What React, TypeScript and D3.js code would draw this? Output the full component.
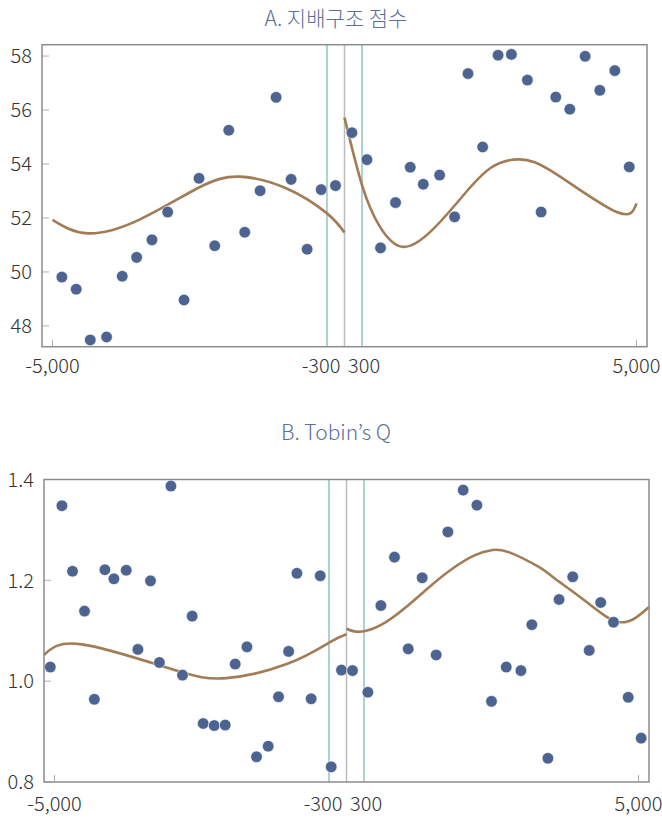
import { useEffect, useRef } from 'react';
import * as d3 from 'd3';

// Panel A: 지배구조 점수
const aPointX = [-4840, -4594, -4354, -4074, -3806, -3559, -3297, -3028, -2748, -2491, -2222, -1982, -1708, -1445, -1171, -914, -640, -399, -154,
  127, 384, 617, 874, 1126, 1349, 1629, 1886, 2115, 2366, 2630, 2858, 3132, 3367, 3618, 3858, 4121, 4372, 4629, 4876];
const aPointY = [49.81, 49.36, 47.48, 47.59, 49.84, 50.54, 51.19, 52.22, 48.96, 53.47, 50.97, 55.25, 51.47, 53.01, 56.47, 53.43, 50.84, 53.05, 53.2,
  55.16, 54.16, 50.89, 52.57, 53.88, 53.25, 53.59, 52.04, 57.35, 54.63, 58.03, 58.06, 57.11, 52.22, 56.48, 56.03, 57.99, 56.73, 57.46, 53.89];
const aLeftFitX = [-5000, -4400, -3500, -2500, -1800, -1000, -300, 0];
const aLeftFitY = [51.93, 51.43, 51.95, 53.12, 53.53, 53.1, 52.17, 51.46];
const aRightFitX = [0, 300, 600, 1000, 1500, 2000, 2500, 3000, 3600, 4650, 5000];
const aRightFitY = [55.72, 53.22, 51.7, 50.93, 51.55, 52.75, 53.85, 54.17, 53.66, 52.23, 52.54];
const aYTicks = [48, 50, 52, 54, 56, 58];

// Panel B: Tobin's Q
const bPointX = [-5072, -4873, -4692, -4486, -4318, -4137, -3983, -3772, -3572, -3356, -3204, -3007, -2808, -2643, -2454, -2265, -2077, -1906,
  -1705, -1541, -1341, -1164, -991, -849, -605, -450, -262, -86,
  103, 366, 589, 822, 1057, 1296, 1536, 1736, 1998, 2233, 2483, 2735, 2987, 3174, 3449, 3640, 3874, 4156, 4353, 4572, 4824, 5046];
const bPointY = [1.028, 1.348, 1.218, 1.139, 0.964, 1.221, 1.203, 1.22, 1.063, 1.199, 1.037, 1.387, 1.012, 1.129, 0.916, 0.912, 0.913, 1.034,
  1.068, 0.85, 0.871, 0.969, 1.059, 1.214, 0.965, 1.209, 0.83, 1.022,
  1.021, 0.978, 1.15, 1.246, 1.064, 1.205, 1.052, 1.296, 1.379, 1.349, 0.96, 1.028, 1.021, 1.112, 0.847, 1.162, 1.207, 1.061, 1.156, 1.117, 0.968, 0.887];
const bLeftFitX = [-5180, -4530, -3000, -2060, -1000, -290, 0];
const bLeftFitY = [1.052, 1.073, 1.024, 1.006, 1.035, 1.077, 1.093];
const bRightFitX = [0, 235, 600, 1000, 1400, 1800, 2200, 2500, 2800, 3300, 3550, 4100, 4690, 5180];
const bRightFitY = [1.104, 1.098, 1.112, 1.145, 1.185, 1.222, 1.25, 1.26, 1.255, 1.226, 1.205, 1.158, 1.117, 1.147];
const bYTicks = [0.8, 1.0, 1.2, 1.4];

const xTicks = [-5000, -300, 300, 5000];
const xDomain = [-5180, 5180];

const FONT = "'Noto Sans CJK KR', 'Noto Sans', sans-serif";
const DOT = '#4e6490';
const FIT = '#a27c56';
const TEAL = '#72b8ad';

const fmtLocale = d3.formatLocale({ decimal: '.', thousands: ',', grouping: [3], currency: ['', ''], minus: '-' });
const fmtX = fmtLocale.format(',');

function drawPanel(svg, opts) {
  const { title, titleY, left, right, top, bottom, xLabelDy, yDomain, yTicks, yFmt, px, py, lx, ly, rx, ry } = opts;
  const x = d3.scaleLinear().domain(xDomain).range([left, right]);
  const y = d3.scaleLinear().domain(yDomain).range([bottom, top]);
  const g = svg.append('g');

  g.append('text')
    .attr('x', 336)
    .attr('y', titleY)
    .attr('text-anchor', 'middle')
    .style('font-family', FONT)
    .style('font-size', '21px')
    .style('font-weight', 300)
    .style('fill', '#5b6f99')
    .text(title);

  // reference lines
  [-300, 300].forEach(v => {
    g.append('line')
      .attr('x1', x(v)).attr('x2', x(v))
      .attr('y1', top).attr('y2', bottom)
      .style('stroke', TEAL).style('stroke-width', 1.2);
  });
  g.append('line')
    .attr('x1', x(0)).attr('x2', x(0))
    .attr('y1', top).attr('y2', bottom)
    .style('stroke', '#bdbdbd').style('stroke-width', 1.5);

  // y ticks
  yTicks.forEach(t => {
    g.append('line')
      .attr('x1', left).attr('x2', left + 7)
      .attr('y1', y(t)).attr('y2', y(t))
      .style('stroke', '#b0b0b0').style('stroke-width', 1);
    g.append('text')
      .attr('x', left - 10)
      .attr('y', y(t))
      .attr('dy', '0.36em')
      .attr('text-anchor', 'end')
      .style('font-family', FONT)
      .style('font-size', '20px')
      .style('font-weight', 300)
      .style('fill', '#333')
      .text(yFmt(t));
  });

  // x ticks: the two inner labels are pushed apart so they do not collide
  xTicks.forEach(t => {
    if (Math.abs(t) === 5000) {
      g.append('line')
        .attr('x1', x(t)).attr('x2', x(t))
        .attr('y1', bottom).attr('y2', bottom - 7)
        .style('stroke', '#b0b0b0').style('stroke-width', 1);
    }
    const anchor = t === -300 ? 'end' : t === 300 ? 'start' : 'middle';
    const shift = t === -300 ? 13.5 : t === 300 ? -14 : 0;
    g.append('text')
      .attr('x', x(t) + shift)
      .attr('y', bottom + xLabelDy)
      .attr('text-anchor', anchor)
      .style('font-family', FONT)
      .style('font-size', '20px')
      .style('font-weight', 300)
      .style('fill', '#333')
      .text(fmtX(t));
  });

  // fitted curves
  const line = d3.line()
    .x(d => x(d[0]))
    .y(d => y(d[1]))
    .curve(d3.curveNatural);
  [[lx, ly], [rx, ry]].forEach(([xs, ys]) => {
    g.append('path')
      .attr('d', line(xs.map((v, i) => [v, ys[i]])))
      .style('fill', 'none')
      .style('stroke', FIT)
      .style('stroke-width', 2.6);
  });

  // points
  g.selectAll('.dot')
    .data(px.map((v, i) => [v, py[i]]))
    .enter()
    .append('circle')
    .attr('class', 'dot')
    .attr('cx', d => x(d[0]))
    .attr('cy', d => y(d[1]))
    .attr('r', 5.8)
    .style('fill', DOT)
    .style('stroke', 'white')
    .style('stroke-width', 0.6);

  // frame
  g.append('rect')
    .attr('x', left).attr('y', top)
    .attr('width', right - left).attr('height', bottom - top)
    .style('fill', 'none')
    .style('stroke', '#8c8c8c')
    .style('stroke-width', 1.5);
}

const App = () => {
  const svgRef = useRef(null);

  useEffect(() => {
    const svg = d3.select(svgRef.current);
    svg.selectAll('*').remove();

    drawPanel(svg, {
      title: 'A. 지배구조 점수', titleY: 26,
      left: 42, right: 647, top: 44.7, bottom: 346.7, xLabelDy: 26.5,
      yDomain: [47.23, 58.42], yTicks: aYTicks, yFmt: d => String(d),
      px: aPointX, py: aPointY, lx: aLeftFitX, ly: aLeftFitY, rx: aRightFitX, ry: aRightFitY
    });

    drawPanel(svg, {
      title: 'B. Tobin’s Q', titleY: 440,
      left: 44, right: 649, top: 479.5, bottom: 782, xLabelDy: 29,
      yDomain: [0.8, 1.4], yTicks: bYTicks, yFmt: d => d.toFixed(1),
      px: bPointX, py: bPointY, lx: bLeftFitX, ly: bLeftFitY, rx: bRightFitX, ry: bRightFitY
    });
  }, []);

  return (
    <svg
      ref={svgRef}
      width={662}
      height={818}
      style={{ position: 'absolute', left: 0, top: 0, background: '#fff' }}
    />
  );
};

export default App;
